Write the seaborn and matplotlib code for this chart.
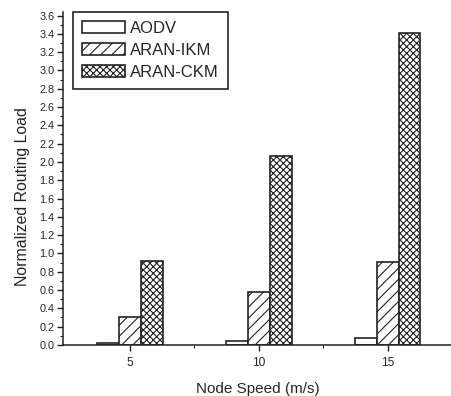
import numpy as np
import pandas as pd
import matplotlib
matplotlib.use("Agg")
import matplotlib.pyplot as plt
from matplotlib.ticker import MultipleLocator, FixedLocator
from matplotlib.patches import Patch
import seaborn as sns

# values
speeds = ["5", "10", "15"]
protocols = ["AODV", "ARAN-IKM", "ARAN-CKM"]
aodv = [0.02, 0.04, 0.08]
aran_ikm = [0.31, 0.58, 0.91]
aran_ckm = [0.92, 2.07, 3.41]
hatches = ["", "///", "xxxxx"]

df = pd.DataFrame({
    "speed": speeds * 3,
    "protocol": [p for p in protocols for _ in speeds],
    "load": aodv + aran_ikm + aran_ckm,
})

sns.set_style("ticks")
plt.rcParams["font.family"] = ["Liberation Sans", "DejaVu Sans"]
plt.rcParams["hatch.linewidth"] = 0.8
plt.rcParams["hatch.color"] = "#222222"

fig = plt.figure(figsize=(4.52, 3.96), dpi=100)
ax = fig.add_axes([0.139, 0.129, 0.861, 0.841])

sns.barplot(data=df, x="speed", y="load", hue="protocol", order=speeds,
            hue_order=protocols, width=0.51,
            palette=["white"] * 3, edgecolor="#222222", linewidth=1.2,
            saturation=1, legend=False, ax=ax)

for cont, h in zip(ax.containers, hatches):
    for bar in cont:
        bar.set_hatch(h)

# legend with hatched patches
handles = [Patch(facecolor="white", edgecolor="#222222", hatch=h, label=p, linewidth=1.2)
           for p, h in zip(protocols, hatches)]
leg = ax.legend(handles=handles, loc="upper left", bbox_to_anchor=(0.025, 1.0),
                borderaxespad=0, fancybox=False, fontsize=12, handlelength=2.6,
                handleheight=0.75, handletextpad=0.3, labelspacing=0.42,
                borderpad=0.55, edgecolor="#222222", framealpha=1)
leg.get_frame().set_linewidth(1.2)

ax.set_xlim(-0.52, 2.5)
ax.set_ylim(0, 3.64)
ax.yaxis.set_major_locator(MultipleLocator(0.2))
ax.yaxis.set_minor_locator(MultipleLocator(0.1))
ax.xaxis.set_minor_locator(FixedLocator([0.5, 1.5]))
ax.set_yticklabels([f"{v:.1f}" for v in ax.get_yticks()])

for side in ["top", "right"]:
    ax.spines[side].set_visible(False)
for side in ["left", "bottom"]:
    ax.spines[side].set_color("#222222")
    ax.spines[side].set_linewidth(1.1)

ax.tick_params(axis="both", which="major", direction="out", length=4, width=1.0,
               color="#222222", labelsize=7.8, pad=2)
ax.tick_params(axis="both", which="minor", direction="out", length=2.5, width=0.8,
               color="#222222")
ax.tick_params(axis="x", labelsize=8.6, pad=5)

ax.set_xlabel("Node Speed (m/s)", fontsize=11, labelpad=9)
ax.set_ylabel("Normalized Routing Load", fontsize=11.4)
ax.yaxis.set_label_coords(-0.085, 0.445)

fig.savefig("out.png", dpi=100)
